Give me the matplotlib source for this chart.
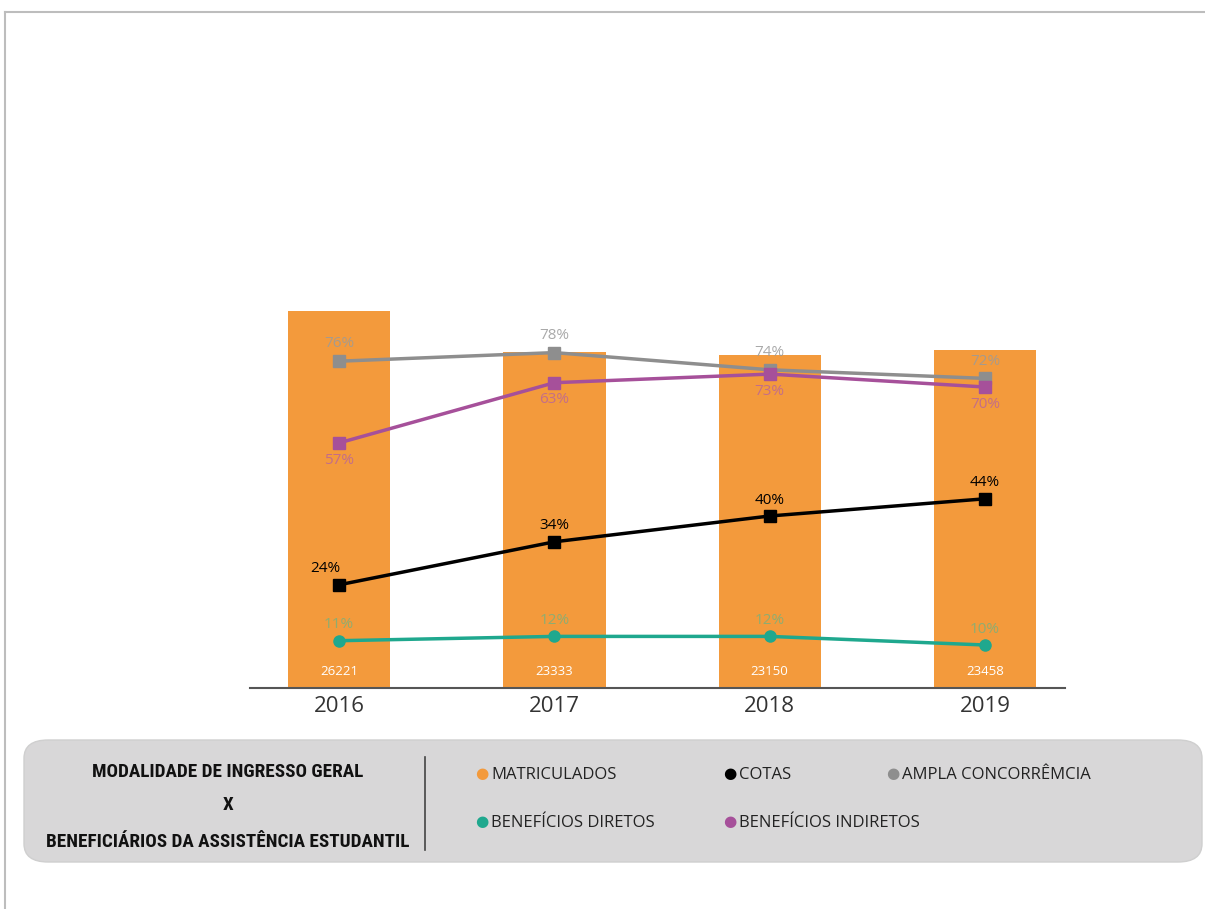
import matplotlib
matplotlib.use("Agg")
from matplotlib import pyplot as plt
from matplotlib.patches import FancyBboxPatch
from matplotlib.lines import Line2D

# data
years = ["2016", "2017", "2018", "2019"]
matriculados = [26221, 23333, 23150, 23458]
ampla = [76, 78, 74, 72]
ampla_labels = ["76%", "78%", "74%", "72%"]
indiretos = [57, 71, 73, 70]
indiretos_labels = ["57%", "63%", "73%", "70%"]
cotas = [24, 34, 40, 44]
cotas_labels = ["24%", "34%", "40%", "44%"]
diretos = [11, 12, 12, 10]
diretos_labels = ["11%", "12%", "12%", "10%"]

legend_names = ["MATRICULADOS", "COTAS", "AMPLA CONCORRÊMCIA",
                "BENEFÍCIOS DIRETOS", "BENEFÍCIOS INDIRETOS"]
title_lines = ["MODALIDADE DE INGRESSO GERAL", "X",
               "BENEFICIÁRIOS DA ASSISTÊNCIA ESTUDANTIL"]

orange = "#F39A3C"
gray = "#8E8E8E"
purple = "#A6509A"
teal = "#1FA88E"
black = "#000000"

plt.rcParams['font.family'] = ['Open Sans', 'DejaVu Sans']

fig = plt.figure(figsize=(12.05, 9.09), dpi=100)
W, H = 1205, 909

# bars on their own axis (counts), lines on a percent axis
axb = fig.add_axes([250 / W, 1 - 688 / H, 815 / W, 628 / H])
x = list(range(len(years)))
axb.bar(x, matriculados, width=0.475, color=orange, zorder=1)
axb.set_ylim(0, 628 * 69.5)
axb.set_xlim(-0.414, 3.372)
for i, v in enumerate(matriculados):
    axb.text(i, 700, str(v), color="white", ha="center", va="bottom", fontsize=9.5)
for s in ["top", "right", "left"]:
    axb.spines[s].set_visible(False)
axb.spines["bottom"].set_color("#555555")
axb.spines["bottom"].set_linewidth(1.5)
axb.set_yticks([])
axb.set_xticks(x)
axb.set_xticklabels(years, fontsize=16, color="#333333")
axb.tick_params(axis="x", length=0, pad=6)

ax = axb.twinx()
ax.set_ylim(0, 628 / 4.3)
ax.set_yticks([])
for s in ax.spines.values():
    s.set_visible(False)

ax.plot(x, ampla, color=gray, lw=2.5, marker="s", ms=8, zorder=3)
ax.plot(x, indiretos, color=purple, lw=2.5, marker="s", ms=8, zorder=4)
ax.plot(x, cotas, color=black, lw=2.5, marker="s", ms=8, zorder=5)
ax.plot(x, diretos, color=teal, lw=2.5, marker="o", ms=8, zorder=5)

for i in x:
    ax.annotate(ampla_labels[i], (i, ampla[i]), xytext=(0, 7), textcoords="offset points",
                ha="center", va="bottom", fontsize=11, color="#9a9a9a", alpha=0.85)
    ax.annotate(indiretos_labels[i], (i, indiretos[i]), xytext=(0, -7), textcoords="offset points",
                ha="center", va="top", fontsize=11, color="#b35fa3", alpha=0.75)
    dx = -10 if i == 0 else 0
    ax.annotate(cotas_labels[i], (i, cotas[i]), xytext=(dx, 6), textcoords="offset points",
                ha="center", va="bottom", fontsize=11, color=black)
    ax.annotate(diretos_labels[i], (i, diretos[i]), xytext=(0, 6), textcoords="offset points",
                ha="center", va="bottom", fontsize=11, color="#7db07a", alpha=0.85)

# legend panel
box = FancyBboxPatch((24 / W, 1 - 862 / H), 1178 / W, 122 / H,
                     boxstyle="round,pad=0,rounding_size=0.02",
                     transform=fig.transFigure, facecolor="#D8D7D8",
                     edgecolor="#CFCFCF", lw=1)
fig.patches.append(box)

title_y = [772, 805, 842]
for t, yy in zip(title_lines, title_y):
    fig.text(228 / W, 1 - yy / H, t, ha="center", va="center", fontsize=13.8,
             fontweight="bold", fontstretch="condensed",
             family=["Liberation Sans Narrow", "DejaVu Sans Condensed",
                     "Roboto Condensed", "DejaVu Sans"], color="#111111")

fig.add_artist(Line2D([425 / W, 425 / W], [1 - 757 / H, 1 - 850 / H],
                      transform=fig.transFigure, color="#444444", lw=1.2))

leg_colors = [orange, black, gray, teal, purple]
leg_pos = [(482, 775), (730, 775), (893, 775), (482, 823), (730, 823)]
for name, c, (px, py) in zip(legend_names, leg_colors, leg_pos):
    fig.text(px / W, 1 - py / H, "●", color=c, ha="center", va="center", fontsize=11)
    fig.text((px + 9) / W, 1 - py / H, name, color="#222222", ha="left", va="center",
             fontsize=12)

# thin frame lines of the screenshot
fig.add_artist(Line2D([5 / W, 1], [1 - 12 / H, 1 - 12 / H], transform=fig.transFigure,
                      color="#BDBDBD", lw=1.5))
fig.add_artist(Line2D([5 / W, 5 / W], [0, 1 - 12 / H], transform=fig.transFigure,
                      color="#BDBDBD", lw=1.5))

plt.savefig("out.png", dpi=100)
